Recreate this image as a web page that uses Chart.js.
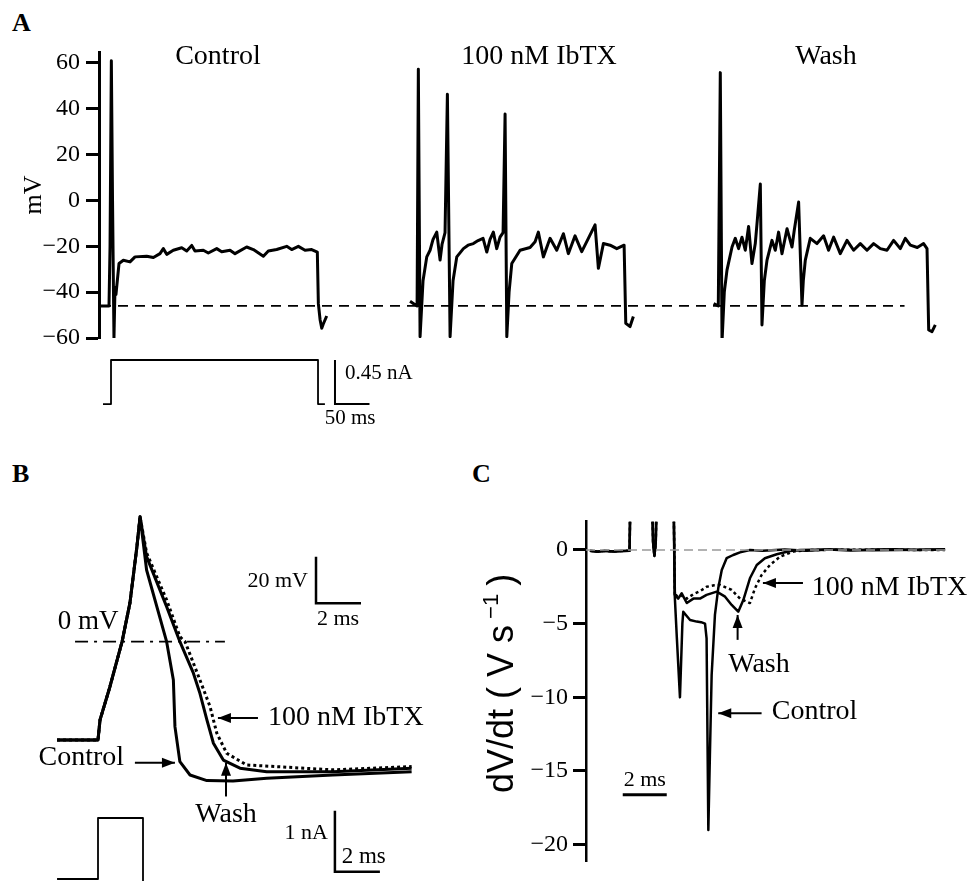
<!DOCTYPE html>
<html>
<head>
<meta charset="utf-8">
<title>IbTX - firing, AP shape and dV/dt</title>
<script src="https://cdn.jsdelivr.net/npm/chart.js@4.4.1/dist/chart.umd.min.js"></script>
<style>
  body { margin: 0; background: #fff; }
  #fig { position: relative; width: 968px; height: 881px; background: #fff; overflow: hidden; }
  #fig canvas { position: absolute; }
  .panel { position: absolute; font: bold 26px "Liberation Serif", "Times New Roman", serif; line-height: 1; color: #000; }
</style>
</head>
<body>
<div id="fig">
  <div class="panel" style="left:12px; top:10px">A</div>
  <div class="panel" style="left:12px; top:461px">B</div>
  <div class="panel" style="left:472px; top:461px">C</div>
  <canvas id="chartA" width="968" height="360" style="left:0; top:0"></canvas>
  <canvas id="chartAstep" width="968" height="110" style="left:0; top:340px"></canvas>
  <canvas id="chartB" width="460" height="421" style="left:0; top:460px"></canvas>
  <canvas id="chartC" width="508" height="421" style="left:460px; top:460px"></canvas>
</div>
<script>
// ---- Panel A: 300 ms current step, [ms from step onset, mV] ----
const ctrlA = [[-14.5,-46],[-2.9,-46],[-1.4,-20],[0.5,61],[2.2,0],[4.3,-60],[5.8,-38],[7.2,-41],[11.6,-27.5],[17.9,-26.1],[27.5,-26.8],[34.8,-24.6],[51.7,-24.3],[61.4,-24.9],[71,-23.2],[75.8,-21],[80.7,-23.5],[90.3,-21.7],[102.5,-20.6],[109.7,-22],[117,-19.6],[121.7,-22],[133.8,-21.7],[141,-22.9],[153.2,-21],[160.4,-22.4],[172.5,-21.7],[179.7,-23.2],[196.6,-20.3],[206.3,-21.4],[220.8,-24.3],[228,-22],[240.1,-21.4],[254.6,-20],[261.8,-21.4],[271.5,-20],[281.2,-21.7],[290.8,-21.4],[299,-22.5],[300.5,-45],[303,-52],[305.4,-55.7],[307.5,-54],[312.6,-50.4]];
const ibtxA = [[-11.6,-44],[-4.3,-45.5],[-1.4,-46],[0.4,57.3],[2.9,-59.4],[7.2,-35],[12.6,-24.6],[17.4,-21.7],[21.7,-17],[27.1,-13.8],[31.9,-26],[34.8,-19],[39.1,-14],[42.5,46.4],[46.4,-59.4],[50.7,-35],[56.1,-24.6],[65.7,-21],[72.5,-19.5],[80.2,-18.8],[87,-17.5],[94.2,-16.5],[99.6,-22.5],[104.3,-17],[109.1,-13.8],[114,-21],[118.8,-16],[123.2,-14],[126.1,37.7],[128.6,-59.4],[131.9,-40],[135.8,-27.5],[147.8,-21.7],[162.3,-20.5],[169.6,-18],[174.3,-13.8],[181.6,-24.6],[191.3,-16.5],[201,-21.7],[210.6,-14.5],[217.8,-23.2],[227.5,-15.4],[237.2,-22.3],[246.8,-16.5],[256.5,-10.6],[261.3,-29.6],[268.6,-18.8],[278.3,-19.5],[288,-21],[298.6,-19.5],[301,-53.6],[307.2,-55],[312,-50.6]];
const washA = [[-9.7,-45],[-2.9,-46],[0,55.8],[2.5,-61.6],[5.8,-40],[9.7,-30.4],[17,-20.3],[21.7,-16.5],[26.5,-21],[31.4,-16],[36.2,-21.7],[41,-11.3],[45.9,-27.5],[50.7,-18.8],[53.2,-10.1],[58,7.2],[60.4,-54.3],[63.8,-35],[67.7,-26],[74.9,-17.4],[79.7,-21.7],[84.5,-13.8],[89.4,-23.2],[96.7,-12.3],[103.9,-20.3],[107.2,-13],[113.5,-0.7],[118.4,-45.7],[120.3,-35],[123.2,-26],[130.4,-16.5],[140.1,-18.8],[149.7,-15.4],[156.9,-21.7],[164.2,-16],[173.9,-23.2],[183.6,-17.4],[193.2,-21.7],[202.9,-18.8],[212.6,-21.7],[222.2,-18.8],[231.9,-21],[241.6,-21.7],[251.2,-17.4],[260.9,-21],[268.1,-16.5],[275.4,-19.5],[285.5,-20.5],[294.6,-18.8],[299.6,-21],[302,-56.5],[306.8,-57.2],[311.6,-54.3]];
const sweepNamesA = ['Control', '100 nM IbTX', 'Wash'];
const sweepStartA = [0, 445, 883];        // ms, sweeps laid side by side
const restA = -46;                        // mV, dashed reference level
const stepA = [[-11.6,0],[0,0],[0,0.45],[300,0.45],[300,0],[310,0]];   // nA
const ticksA = [-60, -40, -20, 0, 20, 40, 60];

// ---- Panel B: single AP, [ms from stimulus onset, mV] ----
const riseB = [[-1.82,-42.1],[0,-42.1],[0.09,-33.5],[0.53,-19.3],[1.07,0],[1.42,16.6],[1.73,40.7],[1.87,53.5]];
const ctrlB = [[2.16,30.7],[3.05,0],[3.35,-16.4],[3.42,-36.4],[3.64,-51.4],[4.09,-57.1],[4.84,-59.5],[6,-59.7],[7.5,-58.5],[10.44,-57.1],[13.94,-55.7]];
const washB = [[2.16,36.4],[3.05,15],[3.64,0],[4.24,-13.5],[4.53,-22.1],[4.84,-33.5],[5.13,-43.5],[5.57,-50.7],[6.31,-54.2],[7.5,-55.7],[10.44,-55.7],[13.94,-54.2]];
const ibtxB = [[2.16,38],[3.05,17.9],[3.64,2.1],[3.87,0],[4.53,-16.4],[4.98,-27.8],[5.28,-39.2],[5.72,-47.8],[6.61,-52.8],[10.44,-54.9],[13.94,-53.5]];
const stepB = [[-1.82,0],[0,0],[0,1],[2,1],[2,-0.1]];   // nA

// ---- Panel C: dV/dt, [ms from stimulus onset, V/s] ----
const preC = [[-1.85,-0.05],[-1.5,-0.12],[-1.2,-0.06],[-0.8,-0.1],[-0.4,-0.07],[-0.05,-0.05],[0,5],[0.95,5],[1.02,0.5],[1.08,-0.4],[1.14,0.5],[1.2,5],[1.94,5]];
const ctrlC = [[2,-3],[2.1,-6],[2.24,-10],[2.35,-5],[2.39,-4.2],[2.5,-4.4],[2.7,-4.75],[3,-4.86],[3.2,-4.9],[3.38,-5],[3.45,-6],[3.53,-19],[3.6,-14],[3.68,-8.5],[3.83,-4.4],[3.98,-2.6],[4.14,-1.36],[4.36,-0.56],[4.66,-0.34],[4.97,-0.16],[5.42,0],[6,-0.05],[7,0.03],[8,-0.05],[9,0.03],[10,-0.03],[11,0.03],[12,0.05],[13,0],[14.29,0.05]];
const washC = [[2.01,-3.05],[2.16,-3.3],[2.32,-2.94],[2.55,-3.6],[2.85,-3.3],[3.15,-3.3],[3.45,-3.05],[3.91,-2.83],[4.29,-3.17],[4.59,-3.73],[4.89,-4.19],[5.12,-3.4],[5.42,-1.92],[5.73,-1.02],[6.1,-0.56],[6.64,-0.29],[7.24,-0.07],[7.7,0],[9,0.03],[11,-0.02],[14.29,0.03]];
const ibtxC = [[2.01,-3.2],[2.16,-3],[2.32,-3.1],[2.55,-3.3],[2.85,-3],[3.15,-2.8],[3.45,-2.5],[3.8,-2.4],[4.06,-2.37],[4.59,-2.71],[4.97,-3.3],[5.42,-3.6],[5.65,-2.6],[5.95,-1.7],[6.33,-1.02],[6.79,-0.45],[7.39,-0.11],[8.15,0],[10,0.02],[14.29,0]];
const ticksC = [0, -5, -10, -15, -20];

const serif = '"Liberation Serif", "Times New Roman", serif';
const sans = '"Liberation Sans", Arial, sans-serif';

const minus = v => (v < 0 ? '\u2212' + Math.abs(v) : String(v));
const pts = (arr, shift = 0) => arr.map(([t, v]) => ({ x: t + shift, y: v }));

function trace(data, extra) {
  return Object.assign({
    data, borderColor: '#000', borderWidth: 3, pointRadius: 0,
    fill: false, tension: 0, borderJoinStyle: 'round'
  }, extra);
}

function baseOptions(scales, padding) {
  return {
    responsive: false, animation: false, devicePixelRatio: 1, events: [],
    layout: { padding },
    plugins: { legend: { display: false }, tooltip: { enabled: false } },
    scales
  };
}

// text, scale bars and arrows placed in data units
function marks(items) {
  return {
    id: 'marks',
    afterDatasetsDraw(chart) {
      const ctx = chart.ctx, sx = chart.scales.x;
      ctx.save();
      ctx.fillStyle = ctx.strokeStyle = '#000';
      items.forEach(m => {
        const sy = chart.scales[m.axis || 'y'];
        const P = ([t, v]) => [sx.getPixelForValue(t), sy.getPixelForValue(v)];
        if (m.text) {
          const [px, py] = P(m.at);
          ctx.font = `${m.size || 28}px ${serif}`;
          ctx.textAlign = m.align || 'center';
          ctx.textBaseline = 'middle';
          ctx.fillText(m.text, px, py);
          return;
        }
        const p = m.path.map(P);
        ctx.lineWidth = m.width || 2;
        ctx.setLineDash(m.dash || []);
        ctx.beginPath();
        p.forEach(([px, py], i) => (i ? ctx.lineTo(px, py) : ctx.moveTo(px, py)));
        ctx.stroke();
        ctx.setLineDash([]);
        if (m.arrow) {
          const [x1, y1] = p[p.length - 1], [x0, y0] = p[p.length - 2];
          const a = Math.atan2(y1 - y0, x1 - x0), L = 13, W = 5;
          ctx.beginPath();
          ctx.moveTo(x1, y1);
          ctx.lineTo(x1 - L * Math.cos(a) + W * Math.sin(a), y1 - L * Math.sin(a) - W * Math.cos(a));
          ctx.lineTo(x1 - L * Math.cos(a) - W * Math.sin(a), y1 - L * Math.sin(a) + W * Math.cos(a));
          ctx.closePath();
          ctx.fill();
        }
      });
      ctx.restore();
    }
  };
}

function renderA() {
  const datasets = [ctrlA, ibtxA, washA].map((s, i) => trace(pts(s, sweepStartA[i])));
  datasets.push(trace([{ x: -14.5, y: restA }, { x: 1150, y: restA }], { borderWidth: 1.8, borderDash: [10, 7] }));

  new Chart(document.getElementById('chartA'), {
    type: 'line',
    data: { datasets },
    options: baseOptions({
      x: { type: 'linear', display: false, min: -17.4, max: 1201.4 },
      y: {
        min: -60, max: 64.8,
        afterBuildTicks: s => { s.ticks = ticksA.map(v => ({ value: v })); },
        afterFit: s => { s.width = 99; },
        border: { color: '#000', width: 3 },
        grid: { drawOnChartArea: false, tickColor: '#000', tickLength: 13, tickWidth: 3 },
        ticks: { color: '#000', padding: 6, font: { family: serif, size: 24 }, callback: minus },
        title: { display: true, text: 'mV', color: '#000', font: { family: serif, size: 26 }, padding: { top: 19, bottom: 0 } }
      }
    }, { top: 52, bottom: 22, left: 0, right: 28 }),
    plugins: [marks(sweepNamesA.map((name, i) => ({ text: name, at: [[155, 175.3, 153.2][i] + sweepStartA[i], 62.6] })))]
  });

  new Chart(document.getElementById('chartAstep'), {
    type: 'line',
    data: { datasets: [trace(pts(stepA), { borderWidth: 1.8 })] },
    options: baseOptions({
      x: { type: 'linear', display: false, min: -17.4, max: 1201.4 },
      y: { display: false, min: -0.061, max: 0.552 }
    }, { top: 10, bottom: 40, left: 99, right: 28 }),
    plugins: [marks([
      { path: [[324.6, 0.45], [324.6, 0], [374.6, 0]], width: 2 },
      { text: '0.45 nA', at: [339.1, 0.317], size: 21, align: 'left' },
      { text: '50 ms', at: [346.4, -0.143], size: 21 }
    ])]
  });
}

function renderB() {
  new Chart(document.getElementById('chartB'), {
    type: 'line',
    data: {
      datasets: [
        trace(pts(riseB.concat(ctrlB))),
        trace(pts(riseB.concat(washB))),
        trace(pts(riseB.concat(ibtxB)), { borderDash: [3, 3] }),
        trace(pts(stepB), { yAxisID: 'y2', borderWidth: 1.8 })
      ]
    },
    options: baseOptions({
      x: { type: 'linear', display: false, min: -4.356, max: 16.09 },
      y: { display: false, min: -102.5, max: 77.8 },
      y2: { display: false, min: -0.033, max: 6.87 }
    }, 0),
    plugins: [marks([
      { path: [[-1.02, 0], [5.64, 0]], width: 1.8, dash: [13, 6, 3, 6] },
      { text: '0 mV', at: [-0.44, 8.4], size: 27 },
      { text: '100 nM IbTX', at: [7.56, -32.7], align: 'left' },
      { path: [[7.11, -32.7], [5.33, -32.7]], arrow: true },
      { text: 'Control', at: [1.16, -49.8], align: 'right' },
      { path: [[1.64, -51.9], [3.42, -51.9]], arrow: true },
      { text: 'Wash', at: [5.69, -74.2] },
      { path: [[5.69, -66.3], [5.69, -51.9]], arrow: true },
      { path: [[9.69, 36.4], [9.69, 16.4], [11.69, 16.4]], width: 2.5 },
      { text: '20 mV', at: [9.33, 25.7], size: 22, align: 'right' },
      { text: '2 ms', at: [10.67, 9.7], size: 22 },
      { path: [[10.53, 1.12], [10.53, 0.12], [12.53, 0.12]], axis: 'y2', width: 2.5 },
      { text: '1 nA', at: [10.22, 0.754], axis: 'y2', size: 22, align: 'right' },
      { text: '2 ms', at: [10.83, 0.36], axis: 'y2', size: 23, align: 'left' }
    ])]
  });
}

// rotated y label with a superscript
const yTitleC = {
  id: 'yTitleC',
  afterDraw(chart) {
    const ctx = chart.ctx;
    ctx.save();
    ctx.translate(53, 333);
    ctx.rotate(-Math.PI / 2);
    ctx.fillStyle = '#000';
    ctx.textBaseline = 'alphabetic';
    ctx.textAlign = 'left';
    ctx.font = `36px ${sans}`;
    const main = 'dV/dt ( V s';
    ctx.fillText(main, 0, 0);
    let x = ctx.measureText(main).width + 6;
    ctx.font = `22px ${sans}`;
    ctx.fillText('\u22121', x, -15);
    x += ctx.measureText('\u22121').width + 8;
    ctx.font = `36px ${sans}`;
    ctx.fillText(')', x, 0);
    ctx.restore();
  }
};

function renderC() {
  new Chart(document.getElementById('chartC'), {
    type: 'line',
    data: {
      datasets: [
        trace([{ x: -2.03, y: 0 }, { x: 14.3, y: 0 }], { borderColor: '#999', borderWidth: 1.5, borderDash: [9, 5] }),
        trace(pts(preC.concat(ctrlC)), { borderWidth: 2.5 }),
        trace(pts(preC.concat(washC)), { borderWidth: 2.5 }),
        trace(pts(preC.concat(ibtxC)), { borderWidth: 2.5, borderDash: [3, 3] })
      ]
    },
    options: baseOptions({
      x: { type: 'linear', display: false, min: -2.03, max: 14.74 },
      y: {
        min: -21.15, max: 1.92,
        afterBuildTicks: s => { s.ticks = ticksC.map(v => ({ value: v })); },
        afterFit: s => { s.width = 126; },
        border: { color: '#000', width: 2.5 },
        grid: { drawOnChartArea: false, tickColor: '#000', tickLength: 13, tickWidth: 3 },
        ticks: { color: '#000', padding: 5, font: { family: serif, size: 24 }, callback: minus }
      }
    }, { top: 61.7, bottom: 19.3, left: 0, right: 13 }),
    plugins: [marks([
      { text: '100 nM IbTX', at: [8.23, -2.58], align: 'left' },
      { path: [[7.83, -2.24], [6.01, -2.24]], arrow: true },
      { text: 'Wash', at: [5.83, -7.8] },
      { path: [[4.86, -6.1], [4.86, -4.41]], arrow: true },
      { text: 'Control', at: [6.41, -10.97], align: 'left' },
      { path: [[5.95, -11.08], [3.98, -11.08]], arrow: true },
      { path: [[-0.36, -16.62], [1.64, -16.62]], width: 3 },
      { text: '2 ms', at: [0.64, -15.6], size: 22 }
    ]), yTitleC]
  });
}

function init() {
  renderA();
  renderB();
  renderC();
}

document.addEventListener('DOMContentLoaded', init);
</script>
</body>
</html>
